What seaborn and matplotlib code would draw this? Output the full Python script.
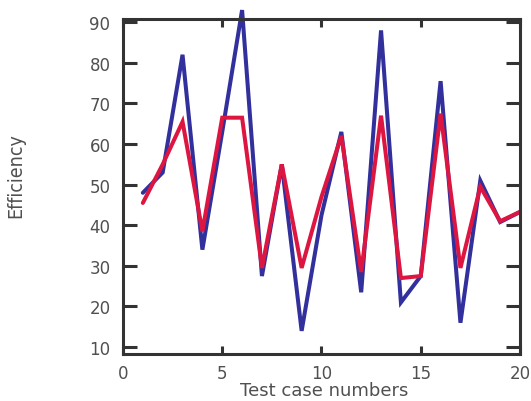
import matplotlib
matplotlib.use("Agg")
import matplotlib.pyplot as plt
import seaborn as sns
import pandas as pd

# Efficiency per test case for the two methods
test_cases = list(range(1, 21))
efficiency_blue = [48, 53, 82, 34, 63, 93, 27.5, 55, 14, 42.5,
                   63, 23.5, 88, 21, 27.5, 75.5, 16, 51, 40.8, 43.3]
efficiency_red = [45.5, 55, 65.5, 38.5, 66.5, 66.5, 29.5, 55, 29.5, 47,
                  62, 28.5, 67, 27, 27.5, 67.5, 29.5, 49.5, 41, 43.3]

x_ticks = [0, 5, 10, 15, 20]
y_ticks = [10, 20, 30, 40, 50, 60, 70, 80, 90]

df = pd.concat([
    pd.DataFrame({"case": test_cases, "eff": efficiency_blue, "method": "A"}),
    pd.DataFrame({"case": test_cases, "eff": efficiency_red, "method": "B"}),
])

sns.set_theme(style="ticks")
plt.rcParams["font.family"] = ["DejaVu Sans"]

fig = plt.figure(figsize=(5.31, 4.02), dpi=100)
ax = fig.add_axes([0.2316, 0.1169, 0.7477, 0.8333])

sns.lineplot(data=df, x="case", y="eff", hue="method",
             palette={"A": "#32309c", "B": "#dc1640"},
             linewidth=2.9, legend=False, ax=ax, estimator=None,
             sort=False)
for ln in ax.get_lines():
    ln.set_clip_on(False)
    ln.set_solid_joinstyle("miter")

ax.set_xlim(0, 20)
ax.set_ylim(8.3, 90.8)
ax.set_xticks(x_ticks)
ax.set_yticks(y_ticks)

for side in ["left", "right", "top", "bottom"]:
    ax.spines[side].set_visible(True)
    ax.spines[side].set_linewidth(2.2)
    ax.spines[side].set_color("#333333")

ax.tick_params(axis="both", direction="in", top=True, right=True,
               width=2.2, color="#333333", labelcolor="#505050",
               labelsize=12)
ax.tick_params(axis="x", length=6, pad=7)
ax.tick_params(axis="y", length=10, pad=9)

ax.set_xlabel("Test case numbers", fontsize=13, color="#505050")
ax.set_ylabel("Efficiency", fontsize=14, color="#505050",
              family="DejaVu Sans", fontstretch="condensed")
ax.xaxis.set_label_coords(0.506, -0.08)
ax.yaxis.set_label_coords(-0.245, 0.537)

fig.savefig("out.png", dpi=100)
